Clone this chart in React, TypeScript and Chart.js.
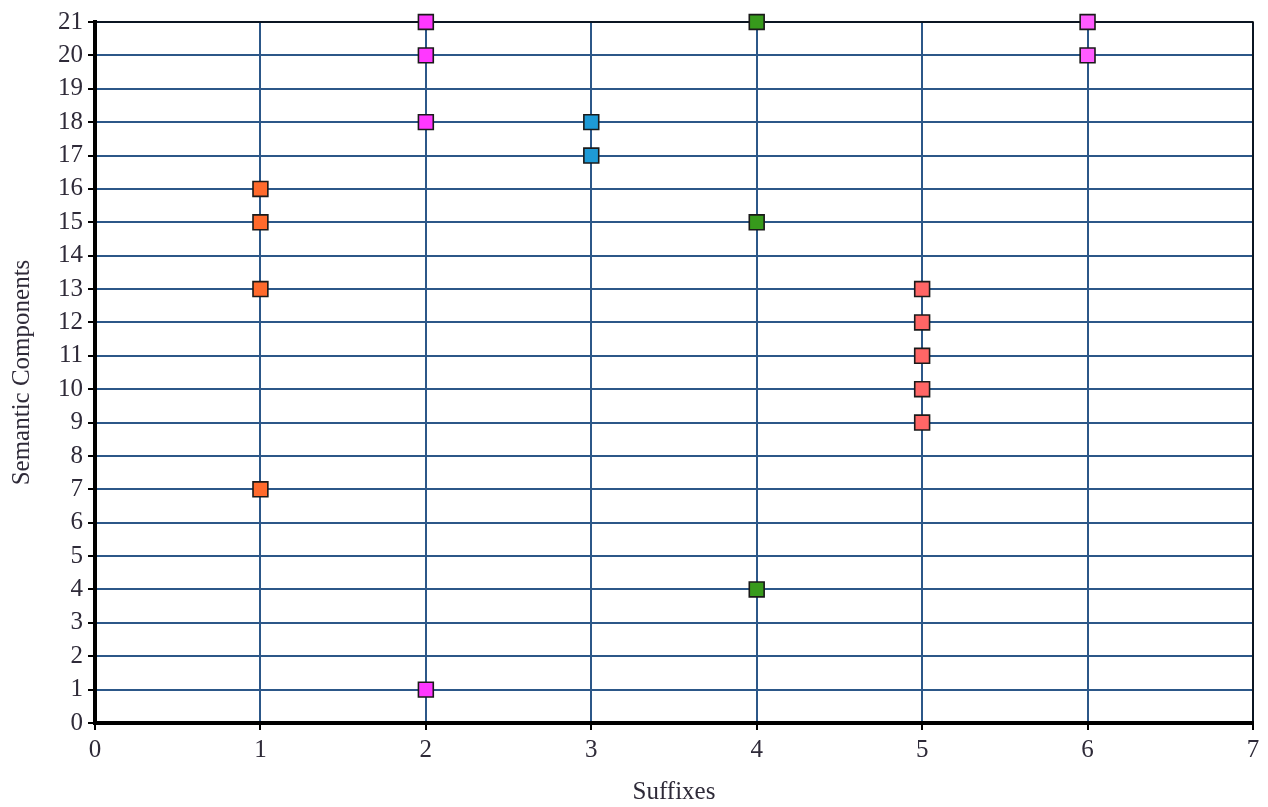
import React, { useEffect, useRef } from "react";
import { Chart, registerables } from "chart.js";

Chart.register(...registerables);

const xTicks = [0, 1, 2, 3, 4, 5, 6, 7];
const yTicks = [0, 1, 2, 3, 4, 5, 6, 7, 8, 9, 10, 11, 12, 13, 14, 15, 16, 17, 18, 19, 20, 21];
const xTitle = "Suffixes";
const yTitle = "Semantic Components";

const suffixOf = [1, 2, 3, 4, 5, 6];
const comps1 = [16, 15, 13, 7];
const comps2 = [21, 20, 18, 1];
const comps3 = [18, 17];
const comps4 = [21, 15, 4];
const comps5 = [13, 12, 11, 10, 9];
const comps6 = [21, 20];
const seriesValues = [comps1, comps2, comps3, comps4, comps5, comps6];
const seriesColors = ["#ff6a2c", "#ff38ff", "#1e9ad6", "#379a1c", "#ff6666", "#ff5cff"];

const FONT = "'Liberation Serif', 'Times New Roman', serif";

const frame = {
  id: "frame",
  beforeDatasetsDraw(chart: any) {
    const { ctx, chartArea } = chart;
    ctx.save();
    ctx.strokeStyle = "#000";
    ctx.lineWidth = 1.5;
    ctx.beginPath();
    ctx.moveTo(chartArea.left, chartArea.top);
    ctx.lineTo(chartArea.right, chartArea.top);
    ctx.lineTo(chartArea.right, chartArea.bottom);
    ctx.stroke();
    ctx.restore();
  },
};

export default function App() {
  const ref = useRef<HTMLCanvasElement | null>(null);
  useEffect(() => {
    if (!ref.current) return;
    const datasets = seriesValues.map((vals, i) => ({
      label: "S" + suffixOf[i],
      data: vals.map((v) => ({ x: suffixOf[i], y: v })),
      backgroundColor: seriesColors[i],
      borderColor: "#1a1a1a",
      borderWidth: 1.6,
      pointStyle: "rect",
      pointRadius: 10.5,
      pointHoverRadius: 10.5,
      showLine: false,
      clip: false as any,
    }));
    const chart = new Chart(ref.current, {
      type: "scatter",
      data: { datasets },
      plugins: [frame],
      options: {
        animation: false,
        responsive: true,
        maintainAspectRatio: false,
        layout: { padding: { top: 22, right: 15, left: 0, bottom: 0 } },
        plugins: { legend: { display: false }, tooltip: { enabled: false } },
        scales: {
          x: {
            type: "linear",
            min: xTicks[0],
            max: xTicks[xTicks.length - 1],
            afterFit: (s: any) => {
              s.height = 84;
            },
            afterBuildTicks: (s: any) => {
              s.ticks = xTicks.map((v) => ({ value: v }));
            },
            ticks: {
              color: "#2e2a38",
              font: { family: FONT, size: 25 },
              padding: 5,
              maxRotation: 0,
            },
            grid: {
              color: "#2c5788",
              lineWidth: 2,
              tickColor: "#000",
              tickLength: 7,
              tickWidth: 2,
            },
            border: { color: "#000", width: 4 },
            title: {
              display: true,
              text: xTitle,
              color: "#2e2a38",
              font: { family: FONT, size: 25 },
              padding: { top: 0, bottom: 0 },
            },
          },
          y: {
            type: "linear",
            min: yTicks[0],
            max: yTicks[yTicks.length - 1],
            afterFit: (s: any) => {
              s.width = 95;
            },
            afterBuildTicks: (s: any) => {
              s.ticks = yTicks.map((v) => ({ value: v }));
            },
            ticks: {
              color: "#2e2a38",
              font: { family: FONT, size: 25 },
              padding: 5,
            },
            grid: {
              color: "#2c5788",
              lineWidth: 2,
              tickColor: "#000",
              tickLength: 7,
              tickWidth: 2,
            },
            border: { color: "#000", width: 4 },
            title: {
              display: true,
              text: yTitle,
              color: "#2e2a38",
              font: { family: FONT, size: 25 },
              padding: { top: 7, bottom: 0 },
            },
          },
        },
      },
    });
    return () => chart.destroy();
  }, []);
  return (
    <div style={{ position: "fixed", left: 0, top: 0, width: 1268, height: 807, background: "#fff" }}>
      <canvas ref={ref} />
    </div>
  );
}
